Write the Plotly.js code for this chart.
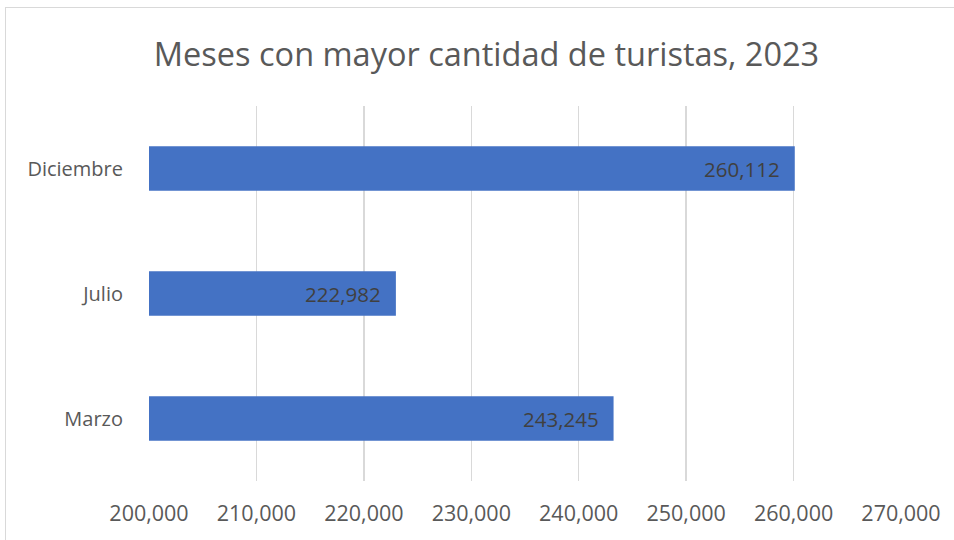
<!DOCTYPE html>
<html><head><meta charset="utf-8">
<script src="https://cdn.plot.ly/plotly-3.0.1.min.js"></script>
<style>
html,body{margin:0;padding:0;background:#fff;}
#frame{position:absolute;left:5px;top:7px;width:954px;height:540px;border:1px solid #d9d9d9;box-sizing:border-box;}
#chart{position:absolute;left:0;top:0;width:954px;height:540px;}
</style></head>
<body><div id="frame"></div><div id="chart"></div>
<script>
const categories = ["Marzo", "Julio", "Diciembre"];
const values = [243245, 222982, 260112];
const tickVals = [200000, 210000, 220000, 230000, 240000, 250000, 260000, 270000];
const tickText = ["200,000", "210,000", "220,000", "230,000", "240,000", "250,000", "260,000", "270,000"];
const fontFam = '"Open Sans", sans-serif';

const trace = {
  type: 'bar', orientation: 'h', y: categories, x: values,
  marker: {color: '#4472C4'}, hoverinfo: 'none'
};
const annotations = categories.map((c, i) => ({
  x: values[i], y: c, xref: 'x', yref: 'y', xanchor: 'right', xshift: -13,
  text: values[i].toLocaleString('en-US'), showarrow: false,
  font: {family: fontFam, size: 20.5, color: '#404040'}
}));
const layout = {
  width: 954, height: 540,
  margin: {l: 149, r: 53, t: 106, b: 59},
  paper_bgcolor: 'rgba(0,0,0,0)', plot_bgcolor: 'rgba(0,0,0,0)',
  bargap: 0.645,
  showlegend: false,
  title: {text: 'Meses con mayor cantidad de turistas, 2023', x: 0.51, xref: 'container', xanchor: 'center',
          y: 0.898, yref: 'container', yanchor: 'middle',
          font: {family: fontFam, size: 32.5, color: '#595959'}},
  xaxis: {range: [200000, 270000], tickvals: tickVals, ticktext: tickText,
          showgrid: true, gridcolor: '#d9d9d9', gridwidth: 1.3, zeroline: false, showline: false,
          ticks: '', ticklabelstandoff: 17,
          tickfont: {family: fontFam, size: 21.5, color: '#595959'}, fixedrange: true},
  yaxis: {showgrid: false, zeroline: false, showline: false, ticks: '', ticklabelstandoff: 25,
          tickfont: {family: fontFam, size: 20, color: '#595959'}, fixedrange: true},
  annotations: annotations
};
Plotly.newPlot('chart', [trace], layout, {displayModeBar: false, staticPlot: true});
</script></body></html>
